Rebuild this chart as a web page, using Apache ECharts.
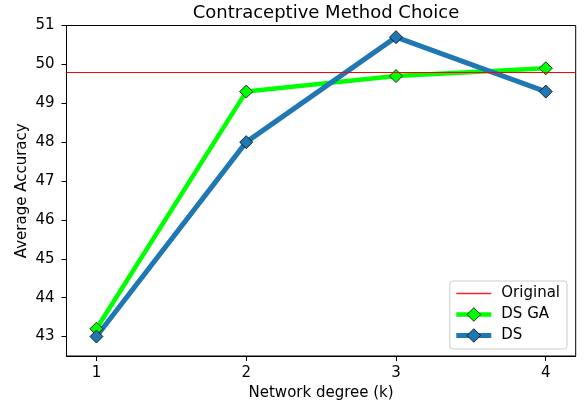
<!DOCTYPE html>
<html>
<head>
<meta charset="utf-8">
<script src="https://cdn.jsdelivr.net/npm/echarts@6/dist/echarts.min.js"></script>
<style>
  html, body { margin: 0; padding: 0; background: #fff; }
  #chart { width: 584px; height: 406px; }
</style>
</head>
<body>
<div id="chart"></div>
<script>
// network degree k
var degrees = [1, 2, 3, 4];
var dsGA = [43.2, 49.3, 49.7, 49.9];
var ds = [43.0, 48.0, 50.7, 49.3];
var originalAcc = 49.8;

var xTicks = [1, 2, 3, 4];
var yTicks = [43, 44, 45, 46, 47, 48, 49, 50, 51];

var FONT = 'DejaVu Sans';

function pairs(xs, ys) {
  return xs.map(function (x, i) { return [x, ys[i]]; });
}

var chart = echarts.init(document.getElementById('chart'), null, { renderer: 'canvas' });

var option = {
  animation: false,
  backgroundColor: '#fff',
  title: {
    text: 'Contraceptive Method Choice',
    left: 321,
    textAlign: 'center',
    top: -1,
    textStyle: { fontFamily: FONT, fontSize: 18, fontWeight: 'normal', color: '#000' }
  },
  grid: {
    left: 66.5, right: 8.3, top: 25.5, bottom: 49,
    show: true, borderColor: '#000', borderWidth: 1, backgroundColor: 'transparent'
  },
  legend: {
    right: 17, bottom: 57,
    orient: 'vertical',
    itemWidth: 35, itemHeight: 17, itemGap: 6,
    padding: [5, 7, 6, 4],
    backgroundColor: 'rgba(255,255,255,0.8)',
    borderColor: '#ccc', borderWidth: 1, borderRadius: 3,
    textStyle: { fontFamily: FONT, fontSize: 15, color: '#000', padding: [0, 0, 0, 5] },
    data: [
      { name: 'Original', itemStyle: { opacity: 0 }, lineStyle: { color: '#ff2020', width: 1.6 } },
      { name: 'DS GA', itemStyle: { borderWidth: 0.8 }, lineStyle: { width: 4.5 } },
      { name: 'DS', itemStyle: { borderWidth: 0.8 }, lineStyle: { width: 5 } }
    ]
  },
  xAxis: {
    type: 'value',
    min: 0.8, max: 4.2,
    name: 'Network degree (k)',
    nameLocation: 'middle',
    nameGap: 30,
    nameTextStyle: { fontFamily: FONT, fontSize: 15, color: '#000' },
    axisLine: { lineStyle: { color: '#000', width: 1 } },
    axisTick: { inside: false, length: 5, customValues: xTicks, lineStyle: { color: '#000' } },
    axisLabel: { customValues: xTicks, margin: 10, fontFamily: FONT, fontSize: 15, color: '#000' },
    splitLine: { show: false }
  },
  yAxis: {
    type: 'value',
    min: 42.5, max: 51,
    name: 'Average Accuracy',
    nameLocation: 'middle',
    nameRotate: 90,
    nameGap: 36.5,
    nameMoveOverlap: false,
    nameTextStyle: { fontFamily: FONT, fontSize: 15, color: '#000' },
    axisLine: { show: true, lineStyle: { color: '#000', width: 1 } },
    axisTick: { show: true, inside: false, length: 5, customValues: yTicks, lineStyle: { color: '#000' } },
    axisLabel: { customValues: yTicks, margin: 12, fontFamily: FONT, fontSize: 15, color: '#000' },
    splitLine: { show: false }
  },
  series: [
    {
      name: 'Original',
      type: 'line',
      data: [],
      symbol: 'none',
      color: '#ff0000',
      itemStyle: { color: '#ff0000' },
      lineStyle: { color: '#ff0000', width: 1 },
      markLine: {
        silent: true,
        symbol: ['none', 'none'],
        label: { show: false },
        lineStyle: { color: '#ff0000', width: 1, type: 'solid' },
        data: [{ yAxis: originalAcc }]
      }
    },
    {
      name: 'DS GA',
      type: 'line',
      data: pairs(degrees, dsGA),
      symbol: 'diamond',
      symbolSize: 13,
      color: '#00ff00',
      lineStyle: { color: '#00ff00', width: 4.5 },
      itemStyle: { color: '#00ff00', borderColor: '#000', borderWidth: 0.8 }
    },
    {
      name: 'DS',
      type: 'line',
      data: pairs(degrees, ds),
      symbol: 'diamond',
      symbolSize: 13,
      color: '#1f77b4',
      lineStyle: { color: '#1f77b4', width: 5 },
      itemStyle: { color: '#1f77b4', borderColor: '#000', borderWidth: 0.8 }
    }
  ]
};

chart.setOption(option);
</script>
</body>
</html>
